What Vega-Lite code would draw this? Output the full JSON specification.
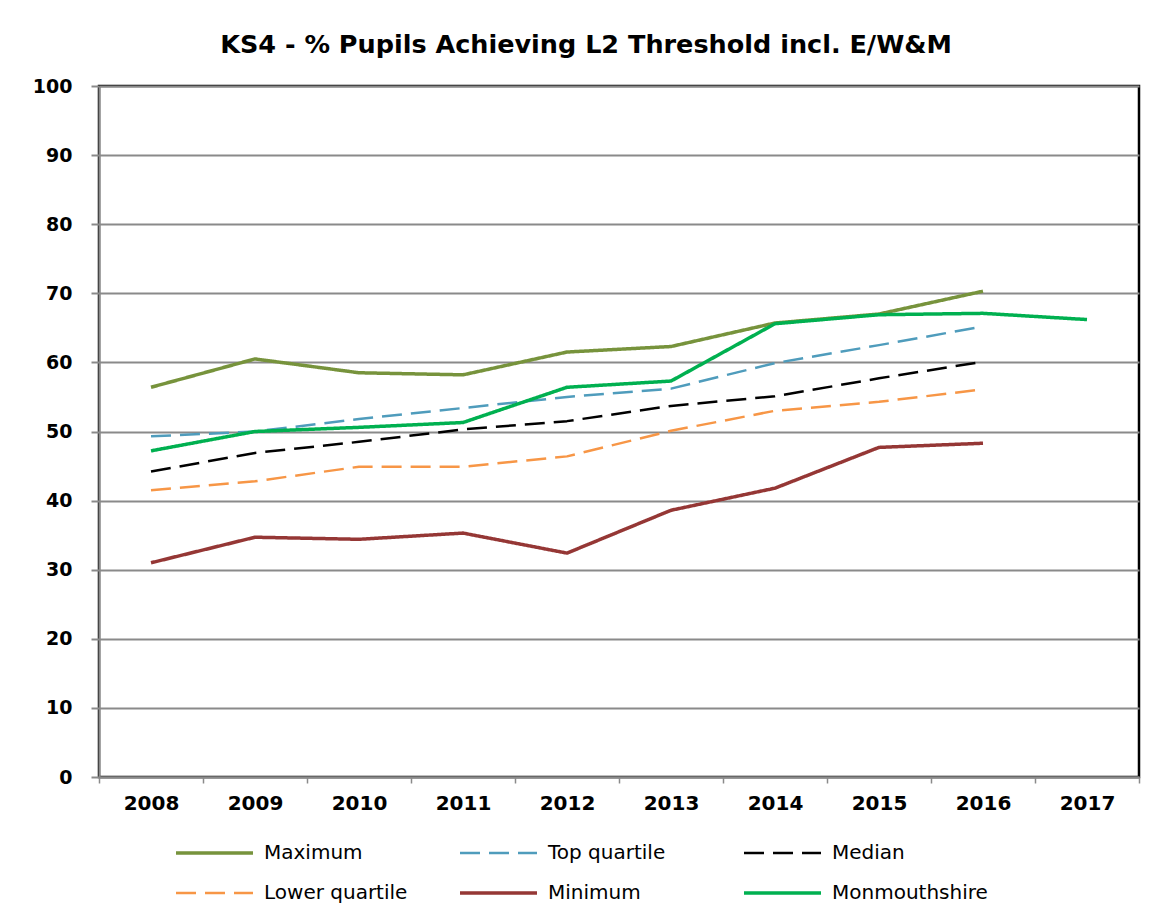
{
  "$schema": "https://vega.github.io/schema/vega-lite/v6.json",
  "width": 1040,
  "height": 691,
  "padding": {"left": 32, "top": 32, "right": 25, "bottom": 5},
  "background": "white",
  "title": {
    "text": "KS4 - % Pupils Achieving L2 Threshold incl. E/W&M",
    "font": "DejaVu Sans",
    "fontSize": 25.5,
    "fontWeight": "bold",
    "color": "#000000",
    "anchor": "middle",
    "frame": "bounds",
    "offset": 19
  },
  "data": {
    "values": [
      {"year": "2008", "series": "Maximum", "value": 56.4},
      {"year": "2009", "series": "Maximum", "value": 60.5},
      {"year": "2010", "series": "Maximum", "value": 58.5},
      {"year": "2011", "series": "Maximum", "value": 58.2},
      {"year": "2012", "series": "Maximum", "value": 61.5},
      {"year": "2013", "series": "Maximum", "value": 62.3},
      {"year": "2014", "series": "Maximum", "value": 65.7},
      {"year": "2015", "series": "Maximum", "value": 67.0},
      {"year": "2016", "series": "Maximum", "value": 70.3},
      {"year": "2008", "series": "Top quartile", "value": 49.3},
      {"year": "2009", "series": "Top quartile", "value": 50.0},
      {"year": "2010", "series": "Top quartile", "value": 51.8},
      {"year": "2011", "series": "Top quartile", "value": 53.4},
      {"year": "2012", "series": "Top quartile", "value": 55.0},
      {"year": "2013", "series": "Top quartile", "value": 56.2},
      {"year": "2014", "series": "Top quartile", "value": 59.9},
      {"year": "2015", "series": "Top quartile", "value": 62.5},
      {"year": "2016", "series": "Top quartile", "value": 65.2},
      {"year": "2008", "series": "Median", "value": 44.2},
      {"year": "2009", "series": "Median", "value": 46.9},
      {"year": "2010", "series": "Median", "value": 48.5},
      {"year": "2011", "series": "Median", "value": 50.3},
      {"year": "2012", "series": "Median", "value": 51.5},
      {"year": "2013", "series": "Median", "value": 53.7},
      {"year": "2014", "series": "Median", "value": 55.1},
      {"year": "2015", "series": "Median", "value": 57.7},
      {"year": "2016", "series": "Median", "value": 60.1},
      {"year": "2008", "series": "Lower quartile", "value": 41.5},
      {"year": "2009", "series": "Lower quartile", "value": 42.8},
      {"year": "2010", "series": "Lower quartile", "value": 44.9},
      {"year": "2011", "series": "Lower quartile", "value": 44.9},
      {"year": "2012", "series": "Lower quartile", "value": 46.4},
      {"year": "2013", "series": "Lower quartile", "value": 50.1},
      {"year": "2014", "series": "Lower quartile", "value": 53.0},
      {"year": "2015", "series": "Lower quartile", "value": 54.3},
      {"year": "2016", "series": "Lower quartile", "value": 56.1},
      {"year": "2008", "series": "Minimum", "value": 31.0},
      {"year": "2009", "series": "Minimum", "value": 34.7},
      {"year": "2010", "series": "Minimum", "value": 34.4},
      {"year": "2011", "series": "Minimum", "value": 35.3},
      {"year": "2012", "series": "Minimum", "value": 32.4},
      {"year": "2013", "series": "Minimum", "value": 38.6},
      {"year": "2014", "series": "Minimum", "value": 41.8},
      {"year": "2015", "series": "Minimum", "value": 47.7},
      {"year": "2016", "series": "Minimum", "value": 48.3},
      {"year": "2008", "series": "Monmouthshire", "value": 47.2},
      {"year": "2009", "series": "Monmouthshire", "value": 50.0},
      {"year": "2010", "series": "Monmouthshire", "value": 50.6},
      {"year": "2011", "series": "Monmouthshire", "value": 51.3},
      {"year": "2012", "series": "Monmouthshire", "value": 56.4},
      {"year": "2013", "series": "Monmouthshire", "value": 57.3},
      {"year": "2014", "series": "Monmouthshire", "value": 65.6},
      {"year": "2015", "series": "Monmouthshire", "value": 66.9},
      {"year": "2016", "series": "Monmouthshire", "value": 67.1},
      {"year": "2017", "series": "Monmouthshire", "value": 66.2}
    ]
  },
  "mark": {"type": "line", "strokeCap": "butt", "strokeJoin": "round"},
  "encoding": {
    "x": {
      "field": "year",
      "type": "ordinal",
      "bandPosition": 0.5,
      "scale": {
        "type": "band",
        "paddingInner": 0,
        "paddingOuter": 0,
        "domain": ["2008", "2009", "2010", "2011", "2012", "2013", "2014", "2015", "2016", "2017"]
      },
      "axis": {
        "title": null,
        "labelAngle": 0,
        "grid": false,
        "tickBand": "extent",
        "domainColor": "#8a8a8a",
        "domainWidth": 2,
        "tickColor": "#8a8a8a",
        "tickWidth": 1.5,
        "tickSize": 6,
        "labelFont": "DejaVu Sans",
        "labelFontSize": 20,
        "labelFontWeight": "bold",
        "labelColor": "#000000",
        "labelPadding": 10
      }
    },
    "y": {
      "field": "value",
      "type": "quantitative",
      "scale": {"domain": [0, 100], "nice": false},
      "axis": {
        "title": null,
        "values": [0, 10, 20, 30, 40, 50, 60, 70, 80, 90, 100],
        "grid": true,
        "gridColor": "#8a8a8a",
        "gridWidth": 2,
        "domainColor": "#8a8a8a",
        "domainWidth": 2,
        "tickColor": "#8a8a8a",
        "tickWidth": 2,
        "tickSize": 8,
        "labelFont": "DejaVu Sans",
        "labelFontSize": 19,
        "labelFontWeight": "bold",
        "labelColor": "#000000",
        "labelPadding": 19
      }
    },
    "color": {
      "field": "series",
      "type": "nominal",
      "scale": {
        "domain": ["Maximum", "Top quartile", "Median", "Lower quartile", "Minimum", "Monmouthshire"],
        "range": ["#77933C", "#4F9CBC", "#000000", "#F79646", "#953735", "#00B050"]
      },
      "legend": {
        "title": null,
        "orient": "none",
        "legendX": 75,
        "legendY": 755,
        "direction": "horizontal",
        "columns": 3,
        "gridAlign": "all",
        "columnPadding": 38,
        "rowPadding": 16,
        "clipHeight": 24,
        "symbolType": "stroke",
        "symbolSize": 5929,
        "labelFont": "DejaVu Sans",
        "labelFontSize": 20,
        "labelColor": "#000000",
        "labelOffset": 9,
        "labelLimit": 400
      }
    },
    "strokeDash": {
      "field": "series",
      "type": "nominal",
      "scale": {
        "domain": ["Maximum", "Top quartile", "Median", "Lower quartile", "Minimum", "Monmouthshire"],
        "range": [[1, 0], [20, 9], [20, 9], [20, 9], [1, 0], [1, 0]]
      },
      "legend": {
        "title": null,
        "orient": "none",
        "legendX": 75,
        "legendY": 755,
        "direction": "horizontal",
        "columns": 3,
        "gridAlign": "all",
        "columnPadding": 38,
        "rowPadding": 16,
        "clipHeight": 24,
        "symbolType": "stroke",
        "symbolSize": 5929,
        "labelFont": "DejaVu Sans",
        "labelFontSize": 20,
        "labelColor": "#000000",
        "labelOffset": 9,
        "labelLimit": 400
      }
    },
    "strokeWidth": {
      "field": "series",
      "type": "nominal",
      "scale": {
        "type": "ordinal",
        "domain": ["Maximum", "Top quartile", "Median", "Lower quartile", "Minimum", "Monmouthshire"],
        "range": [3.5, 2.5, 2.5, 2.5, 3.5, 3.5]
      },
      "legend": {
        "title": null,
        "orient": "none",
        "legendX": 75,
        "legendY": 755,
        "direction": "horizontal",
        "columns": 3,
        "gridAlign": "all",
        "columnPadding": 38,
        "rowPadding": 16,
        "clipHeight": 24,
        "symbolType": "stroke",
        "symbolSize": 5929,
        "labelFont": "DejaVu Sans",
        "labelFontSize": 20,
        "labelColor": "#000000",
        "labelOffset": 9,
        "labelLimit": 400
      }
    }
  },
  "config": {
    "view": {"stroke": "#000000", "strokeWidth": 2.5}
  }
}
